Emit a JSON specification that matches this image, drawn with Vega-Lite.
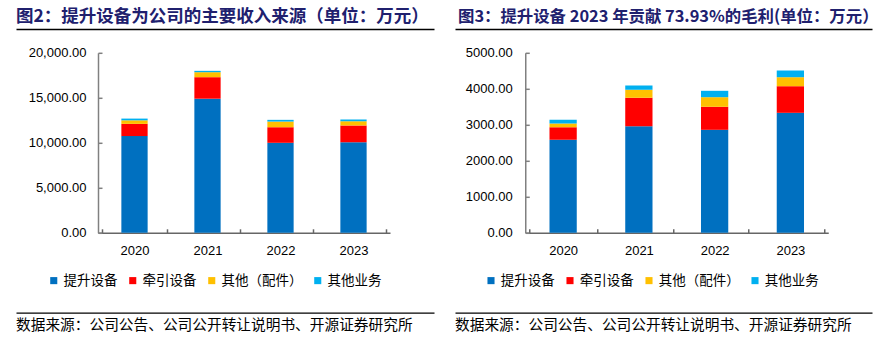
{
  "$schema": "https://vega.github.io/schema/vega-lite/v6.json",
  "padding": {"left": 16, "top": 5, "right": 0, "bottom": 0},
  "config": {
    "view": {"stroke": null},
    "font": "Noto Sans CJK SC",
    "axis": {"grid": false}
  },
  "datasets": {
    "rev": [
      {"year": "2020", "series": "提升设备", "k": 1, "value": 10750},
      {"year": "2020", "series": "牵引设备", "k": 2, "value": 1350},
      {"year": "2020", "series": "其他（配件）", "k": 3, "value": 400},
      {"year": "2020", "series": "其他业务", "k": 4, "value": 190},
      {"year": "2021", "series": "提升设备", "k": 1, "value": 14900},
      {"year": "2021", "series": "牵引设备", "k": 2, "value": 2390},
      {"year": "2021", "series": "其他（配件）", "k": 3, "value": 555},
      {"year": "2021", "series": "其他业务", "k": 4, "value": 150},
      {"year": "2022", "series": "提升设备", "k": 1, "value": 10000},
      {"year": "2022", "series": "牵引设备", "k": 2, "value": 1730},
      {"year": "2022", "series": "其他（配件）", "k": 3, "value": 630},
      {"year": "2022", "series": "其他业务", "k": 4, "value": 190},
      {"year": "2023", "series": "提升设备", "k": 1, "value": 10070},
      {"year": "2023", "series": "牵引设备", "k": 2, "value": 1850},
      {"year": "2023", "series": "其他（配件）", "k": 3, "value": 480},
      {"year": "2023", "series": "其他业务", "k": 4, "value": 190}
    ],
    "gp": [
      {"year": "2020", "series": "提升设备", "k": 1, "value": 2583},
      {"year": "2020", "series": "牵引设备", "k": 2, "value": 350},
      {"year": "2020", "series": "其他（配件）", "k": 3, "value": 100},
      {"year": "2020", "series": "其他业务", "k": 4, "value": 110},
      {"year": "2021", "series": "提升设备", "k": 1, "value": 2963},
      {"year": "2021", "series": "牵引设备", "k": 2, "value": 787},
      {"year": "2021", "series": "其他（配件）", "k": 3, "value": 222},
      {"year": "2021", "series": "其他业务", "k": 4, "value": 120},
      {"year": "2022", "series": "提升设备", "k": 1, "value": 2861},
      {"year": "2022", "series": "牵引设备", "k": 2, "value": 639},
      {"year": "2022", "series": "其他（配件）", "k": 3, "value": 267},
      {"year": "2022", "series": "其他业务", "k": 4, "value": 177},
      {"year": "2023", "series": "提升设备", "k": 1, "value": 3333},
      {"year": "2023", "series": "牵引设备", "k": 2, "value": 739},
      {"year": "2023", "series": "其他（配件）", "k": 3, "value": 250},
      {"year": "2023", "series": "其他业务", "k": 4, "value": 186}
    ]
  },
  "spacing": 17.8,
  "vconcat": [
    {
      "spacing": 21,
      "hconcat": [
        {
          "width": 418, "height": 24,
          "data": {"values": [{"t": "图2：提升设备为公司的主要收入来源（单位：万元）"}]},
          "mark": {"type": "text", "align": "left", "baseline": "middle", "fontSize": 17.5, "fontWeight": "bold", "color": "#20206e"},
          "encoding": {
            "text": {"field": "t"},
            "x": {"datum": 0, "type": "quantitative", "scale": {"domain": [0, 1]},
              "axis": {"orient": "bottom", "domain": true, "domainColor": "#000000", "domainWidth": 1.3, "ticks": false, "labels": false, "title": null}}
          }
        },
        {
          "width": 417, "height": 24,
          "data": {"values": [{"t": "图3：提升设备 2023 年贡献 73.93%的毛利(单位：万元）"}]},
          "mark": {"type": "text", "align": "left", "baseline": "middle", "fontSize": 16.4, "fontWeight": "bold", "color": "#20206e", "dx": 3},
          "encoding": {
            "text": {"field": "t"},
            "x": {"datum": 0, "type": "quantitative", "scale": {"domain": [0, 1]},
              "axis": {"orient": "bottom", "domain": true, "domainColor": "#000000", "domainWidth": 1.3, "ticks": false, "labels": false, "title": null}}
          }
        }
      ]
    },
    {
      "spacing": 0,
      "hconcat": [
        {
          "width": 1, "height": 1,
          "data": {"values": [{"t": ""}]},
          "mark": {"type": "text"},
          "encoding": {"text": {"field": "t"}}
        },
        {
          "spacing": 64.25,
          "resolve": {"scale": {"color": "independent"}, "legend": {"color": "independent"}},
          "hconcat": [
            {
              "width": 292, "height": 180,
              "data": {"name": "rev"},
              "mark": {"type": "bar", "width": {"band": 0.4}},
              "encoding": {
                "x": {"field": "year", "type": "nominal", "title": null,
                  "axis": {"labelAngle": 0, "labelFont": "Liberation Sans", "labelFontSize": 13, "labelColor": "#000000", "domainColor": "#666666", "domainWidth": 1.5, "tickColor": "#666666", "tickWidth": 1.5, "tickSize": -4, "tickBand": "extent", "labelPadding": 16}},
                "y": {"field": "value", "type": "quantitative", "stack": "zero", "title": null,
                  "scale": {"domain": [0, 20000]},
                  "axis": {"values": [0, 5000, 10000, 15000, 20000], "format": ",.2f", "labelFont": "Liberation Sans", "labelFontSize": 13, "labelColor": "#000000", "domainColor": "#808080", "domainWidth": 1.5, "tickColor": "#808080", "tickWidth": 1.5, "tickSize": -4, "labelPadding": 16, "minExtent": 80.7}},
                "color": {"field": "series", "type": "nominal",
                  "scale": {"domain": ["提升设备", "牵引设备", "其他（配件）", "其他业务"], "range": ["#0070C0", "#FF0000", "#FFC000", "#00B0F0"]},
                  "legend": {"title": null, "orient": "none", "legendX": -51, "legendY": 220.7, "direction": "horizontal", "columns": 4, "symbolType": "square", "symbolSize": 50, "symbolStrokeWidth": 0, "labelFontSize": 13.5, "labelColor": "#000000", "labelOffset": 3, "columnPadding": 8}},
                "order": {"field": "k", "type": "quantitative"}
              }
            },
            {
              "width": 303, "height": 180,
              "data": {"name": "gp"},
              "mark": {"type": "bar", "width": {"band": 0.4}},
              "encoding": {
                "x": {"field": "year", "type": "nominal", "title": null,
                  "axis": {"labelAngle": 0, "labelFont": "Liberation Sans", "labelFontSize": 13, "labelColor": "#000000", "domainColor": "#666666", "domainWidth": 1.5, "tickColor": "#666666", "tickWidth": 1.5, "tickSize": -4, "tickBand": "extent", "labelPadding": 16}},
                "y": {"field": "value", "type": "quantitative", "stack": "zero", "title": null,
                  "scale": {"domain": [0, 5000]},
                  "axis": {"values": [0, 1000, 2000, 3000, 4000, 5000], "format": ".2f", "labelFont": "Liberation Sans", "labelFontSize": 13, "labelColor": "#000000", "domainColor": "#808080", "domainWidth": 1.5, "tickColor": "#808080", "tickWidth": 1.5, "tickSize": -4, "labelPadding": 17, "minExtent": 71}},
                "color": {"field": "series", "type": "nominal",
                  "scale": {"domain": ["提升设备", "牵引设备", "其他（配件）", "其他业务"], "range": ["#0070C0", "#FF0000", "#FFC000", "#00B0F0"]},
                  "legend": {"title": null, "orient": "none", "legendX": -41, "legendY": 220.7, "direction": "horizontal", "columns": 4, "symbolType": "square", "symbolSize": 50, "symbolStrokeWidth": 0, "labelFontSize": 13.5, "labelColor": "#000000", "labelOffset": 3, "columnPadding": 8}},
                "order": {"field": "k", "type": "quantitative"}
              }
            }
          ]
        }
      ]
    },
    {
      "spacing": 21,
      "hconcat": [
        {
          "width": 418, "height": 40.8,
          "data": {"values": [{"t": "数据来源：公司公告、公司公开转让说明书、开源证券研究所"}]},
          "mark": {"type": "text", "align": "left", "baseline": "middle", "fontSize": 14.7, "color": "#000000"},
          "encoding": {
            "text": {"field": "t"},
            "x": {"datum": 0, "type": "quantitative", "scale": {"domain": [0, 1]},
              "axis": {"orient": "top", "offset": -7.1, "domain": true, "domainColor": "#000000", "domainWidth": 1.2, "ticks": false, "labels": false, "title": null}}
          }
        },
        {
          "width": 417, "height": 40.8,
          "data": {"values": [{"t": "数据来源：公司公告、公司公开转让说明书、开源证券研究所"}]},
          "mark": {"type": "text", "align": "left", "baseline": "middle", "fontSize": 14.7, "color": "#000000"},
          "encoding": {
            "text": {"field": "t"},
            "x": {"datum": 0, "type": "quantitative", "scale": {"domain": [0, 1]},
              "axis": {"orient": "top", "offset": -7.1, "domain": true, "domainColor": "#000000", "domainWidth": 1.2, "ticks": false, "labels": false, "title": null}}
          }
        }
      ]
    }
  ]
}
